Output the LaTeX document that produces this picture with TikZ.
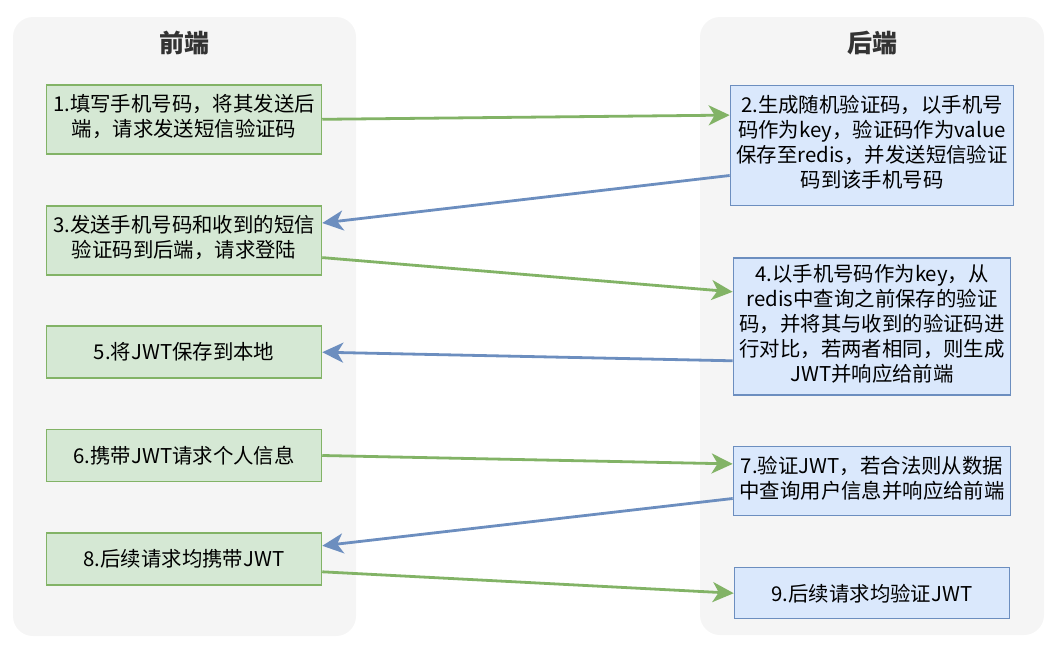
\documentclass[tikz,border=0pt]{standalone}
\usepackage{fontspec}
\setmainfont{Noto Sans CJK SC}
\usepackage{tikz}
\usetikzlibrary{arrows.meta,shapes,positioning}
\usepackage{xcolor}
\definecolor{dfpanel}{RGB}{245,245,245}
\definecolor{dftitle}{RGB}{51,51,51}
\definecolor{dfgreen}{RGB}{130,179,102}
\definecolor{dflightgreen}{RGB}{213,232,212}
\definecolor{dfblue}{RGB}{108,142,191}
\definecolor{dflightblue}{RGB}{218,232,252}
\tikzstyle{panel} = [rectangle, rounded corners=20pt, minimum width=343pt, minimum height=619pt, fill=dfpanel]
\tikzstyle{paneltitle} = [font=\fontsize{25}{28}\selectfont\bfseries, text=dftitle]
\tikzstyle{frontbox} = [rectangle, minimum width=275pt, text centered, draw=dfgreen, fill=dflightgreen, line width=1.5pt, inner sep=0pt, font=\fontsize{20.4}{25}\selectfont]
\tikzstyle{backbox} = [frontbox, draw=dfblue, fill=dflightblue]
\tikzstyle{sendarrow} = [line width=2.8pt, -{Stealth[length=21pt,width=20pt,inset=6pt]}, color=dfgreen]
\tikzstyle{replyarrow} = [sendarrow, color=dfblue]

\begin{document}
\begin{tikzpicture}[x=1pt, y=-1pt]
\useasboundingbox (0,0) rectangle (1047,648);
% Panels
\node (frontend) [panel] at (184.5,326.5) {};
\node (backend) [panel, minimum width=344pt, minimum height=618pt] at (872,326) {};
\node (fronttitle) [paneltitle] at (184,43) {前端};
\node (backtitle) [paneltitle] at (872,43) {后端};

% Steps
\node (step1) [frontbox, minimum height=69pt] at (184,119.3) {
\begin{tabular}{c}
1.填写手机号码，将其发送后\\
端，请求发送短信验证码
\end{tabular}
};

\node (step2) [backbox, minimum height=120pt] at (872,145.3) {
\begin{tabular}{c}
2.生成随机验证码，以手机号\\
码作为key，验证码作为value\\
保存至redis，并发送短信验证\\
码到该手机号码
\end{tabular}
};

\node (step3) [frontbox, minimum height=69pt] at (184,240.3) {
\begin{tabular}{c}
3.发送手机号码和收到的短信\\
验证码到后端，请求登陆
\end{tabular}
};

\node (step4) [backbox, minimum height=137pt] at (872,326.3) {
\begin{tabular}{c}
4.以手机号码作为key，从\\
redis中查询之前保存的验证\\
码，并将其与收到的验证码进\\
行对比，若两者相同，则生成\\
JWT并响应给前端
\end{tabular}
};

\node (step5) [frontbox, minimum height=52pt] at (184,352.2) {5.将JWT保存到本地};

\node (step6) [frontbox, minimum height=52pt] at (184,455.5) {6.携带JWT请求个人信息};

\node (step7) [backbox, minimum height=69pt] at (872,481.2) {
\begin{tabular}{c}
7.验证JWT，若合法则从数据\\
中查询用户信息并响应给前端
\end{tabular}
};

\node (step8) [frontbox, minimum height=52pt] at (184,558.8) {8.后续请求均携带JWT};

\node (step9) [backbox, minimum height=51pt] at (872,593.2) {9.后续请求均验证JWT};

% Arrows
\draw[sendarrow] (step1.east) -- ([yshift=30.2pt]step2.west);
\draw[replyarrow] ([yshift=-30.2pt]step2.west) -- ([yshift=17.3pt]step3.east);
\draw[sendarrow] ([yshift=-17.3pt]step3.east) -- ([yshift=34.5pt]step4.west);
\draw[replyarrow] ([yshift=-34.5pt]step4.west) -- (step5.east);
\draw[sendarrow] (step6.east) -- ([yshift=17.3pt]step7.west);
\draw[replyarrow] ([yshift=-17.3pt]step7.west) -- ([yshift=13pt]step8.east);
\draw[sendarrow] ([yshift=-13pt]step8.east) -- (step9.west);
\end{tikzpicture}
\end{document}
